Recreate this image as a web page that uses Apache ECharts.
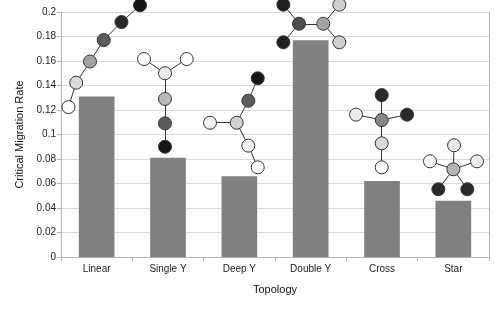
<!DOCTYPE html>
<html>
<head>
<meta charset="utf-8">
<script src="https://cdn.jsdelivr.net/npm/echarts@6/dist/echarts.min.js"></script>
<style>html,body{margin:0;padding:0;background:#fff;}#c{width:501px;height:310px;}</style>
</head>
<body>
<div id="c"></div>
<script>
// ---- data ----
var categories = ['Linear', 'Single Y', 'Deep Y', 'Double Y', 'Cross', 'Star'];
var rates = [0.131, 0.081, 0.066, 0.177, 0.062, 0.046];
var yTicks = [0, 0.02, 0.04, 0.06, 0.08, 0.1, 0.12, 0.14, 0.16, 0.18, 0.2];

// topology diagrams: nodes [x (category band units), y (rate units), shade level 0=white..5=black]
var linearNodes = [[0.105,0.1224,0],[0.213,0.1423,0.8],[0.407,0.1596,2],[0.599,0.1771,3.5],[0.848,0.1918,4.6],[1.108,0.2055,5]];
var linearLinks = [[0,1],[1,2],[2,3],[3,4],[4,5]];
var singleYNodes = [[1.164,0.1616,0],[1.762,0.1616,0],[1.458,0.150,0.4],[1.458,0.129,1.5],[1.458,0.1091,3.5],[1.458,0.090,5]];
var singleYLinks = [[0,2],[1,2],[2,3],[3,4],[4,5]];
var deepYNodes = [[2.758,0.1459,5],[2.626,0.1276,3.5],[2.463,0.1096,1],[2.089,0.1096,0.3],[2.626,0.0909,0.3],[2.758,0.0732,0]];
var deepYLinks = [[0,1],[1,2],[3,2],[2,4],[4,5]];
var doubleYNodes = [[3.117,0.206,4.8],[3.117,0.1753,4.8],[3.337,0.1904,3.8],[3.677,0.1904,2],[3.902,0.206,1],[3.902,0.1753,1]];
var doubleYLinks = [[0,2],[1,2],[2,3],[3,4],[3,5]];
var crossNodes = [[4.496,0.1322,4.6],[4.496,0.1118,2.6],[4.136,0.1162,0.4],[4.851,0.1162,4.6],[4.496,0.0928,0.8],[4.496,0.0732,0]];
var crossLinks = [[1,0],[1,2],[1,3],[1,4],[4,5]];
var starNodes = [[5.50,0.0716,1.6],[5.51,0.0912,0.4],[5.173,0.0781,0],[5.832,0.0781,0.4],[5.29,0.0553,4.6],[5.696,0.0553,4.6]];
var starLinks = [[0,1],[0,2],[0,3],[0,4],[0,5]];

var topologies = [
  [linearNodes, linearLinks],
  [singleYNodes, singleYLinks],
  [deepYNodes, deepYLinks],
  [doubleYNodes, doubleYLinks],
  [crossNodes, crossLinks],
  [starNodes, starLinks]
];

function shadeColor(level) {
  var v = Math.round(255 - level * (255 - 22) / 5);
  var h = v.toString(16); if (h.length < 2) h = '0' + h;
  return '#' + h + h + h;
}

var gNodes = [], gLinks = [];
topologies.forEach(function (t) {
  var base = gNodes.length;
  t[0].forEach(function (n) {
    gNodes.push({ value: [n[0], n[1]], itemStyle: { color: shadeColor(n[2]) } });
  });
  t[1].forEach(function (l) {
    gLinks.push({ source: base + l[0], target: base + l[1] });
  });
});

var chart = echarts.init(document.getElementById('c'), null, { renderer: 'canvas' });
var textFont = 'Liberation Sans';
chart.setOption({
  animation: false,
  backgroundColor: '#ffffff',
  grid: { left: 61, right: 12, top: 12, bottom: 53, containLabel: false },
  xAxis: [{
    type: 'category',
    data: categories,
    name: 'Topology',
    nameLocation: 'middle',
    nameGap: 27,
    nameTextStyle: { fontFamily: textFont, fontSize: 11, color: '#111' },
    axisLine: { lineStyle: { color: '#b3b3b3' } },
    axisTick: { show: true, length: 4, lineStyle: { color: '#b3b3b3' } },
    axisLabel: { fontFamily: textFont, fontSize: 10, color: '#222', margin: 7 },
    splitLine: { show: false }
  }, {
    type: 'value', min: 0, max: 6, show: false
  }],
  yAxis: [{
    type: 'value',
    min: 0, max: 0.2, interval: 0.02,
    name: 'Critical Migration Rate',
    nameLocation: 'middle',
    nameGap: 34,
    nameTextStyle: { fontFamily: textFont, fontSize: 11, color: '#111' },
    axisLine: { show: true, lineStyle: { color: '#b3b3b3' } },
    axisTick: { show: true, length: 4, lineStyle: { color: '#b3b3b3' } },
    axisLabel: {
      fontFamily: textFont, fontSize: 10, color: '#222', margin: 5,
      formatter: function (v) {
        for (var i = 0; i < yTicks.length; i++) if (Math.abs(yTicks[i] - v) < 1e-9) return String(yTicks[i]);
        return '';
      }
    },
    splitLine: { show: true, lineStyle: { color: '#d9d9d9' } }
  }, {
    type: 'value', position: 'right', min: 0, max: 0.2, interval: 0.02,
    axisLine: { show: true, lineStyle: { color: '#b3b3b3' } },
    axisTick: { show: false }, axisLabel: { show: false }, splitLine: { show: false }
  }],
  series: [{
    type: 'bar',
    data: rates,
    barWidth: '50%',
    itemStyle: { color: '#808080' },
    xAxisIndex: 0, yAxisIndex: 0,
    z: 2
  }, {
    type: 'graph',
    coordinateSystem: 'cartesian2d',
    xAxisIndex: 1, yAxisIndex: 0,
    symbol: 'circle',
    symbolSize: 13,
    data: gNodes,
    links: gLinks,
    itemStyle: { borderColor: '#333', borderWidth: 1 },
    lineStyle: { color: '#333', width: 1, opacity: 1 },
    label: { show: false },
    emphasis: { disabled: true },
    z: 5
  }]
});
</script>
</body>
</html>
